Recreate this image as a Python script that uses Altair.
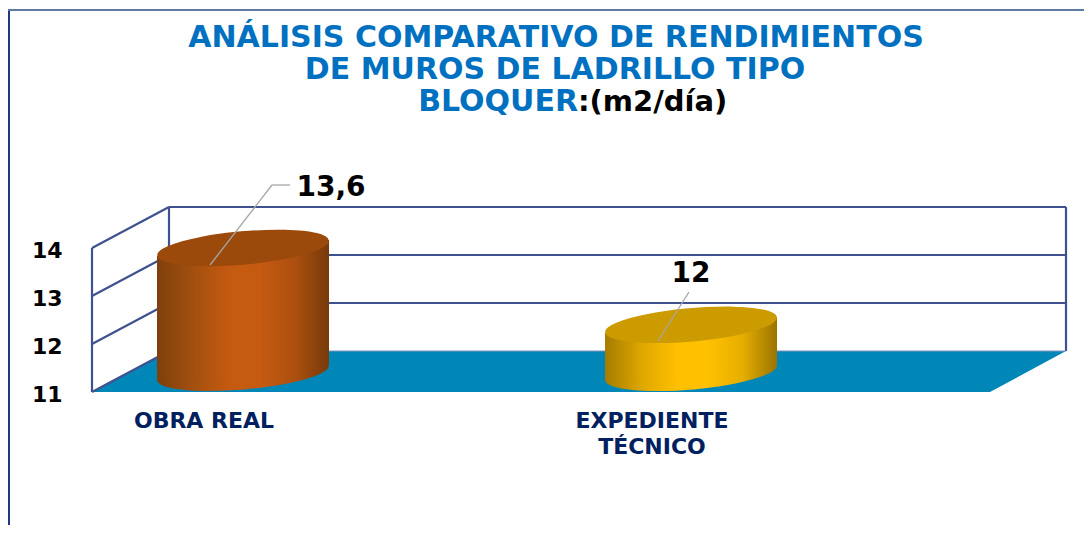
import altair as alt
import pandas as pd

categories = ["OBRA REAL", "EXPEDIENTE\nTÉCNICO"]
values = [13.6, 12]
value_labels = ["13,6", "12"]
y_ticks = [11, 12, 13, 14]
bar_x = [151, 599]
body_colors = [
    ["#7f3f0c", "#a4500f", "#c55a11", "#c55a11", "#ad5010", "#773a0a"],
    ["#a67c00", "#e0a800", "#ffc000", "#ffc000", "#e6ae00", "#9a7400"],
]
top_colors = ["#9c4a0b", "#cc9b00"]
floor_color = "#0087b8"
wall_color = "#3f5290"
title_blue = "#0070c0"
navy = "#002060"

# geometry of the pseudo-3D box, in scale units
DX, DY = 77, 41 / 48
BASE = 11.4
TILT = 8 / 48
HALF = 86
PLOT_W = 974
PLOT_H = 517
Y_DOM = [11 + (392 - 525) / 48, 19.0]
X = alt.Scale(domain=[0, PLOT_W], range=[0, PLOT_W], nice=False, zero=False)
Y = alt.Scale(domain=Y_DOM, nice=False, zero=False)
ELLIPSE = "M-0.996,0.087A1,0.19,-5,1,1,0.996,-0.087A1,0.19,-5,1,1,-0.996,0.087Z"
front_w = 898
AXIS = alt.Axis(values=y_ticks, title=None, domain=False, ticks=False, grid=False,
                labelPadding=30, labelFontSize=22, labelFont="DejaVu Sans", labelOffset=2,
                labelFontWeight="bold", labelColor="black", format="d")


def py(p):
    return 11 + (392 - p) / 48


def px(p):
    return p - 92


def x_enc(f="x"):
    return alt.X(f"{f}:Q", scale=X, axis=None)


def y_enc(f="y"):
    return alt.Y(f"{f}:Q", scale=Y, axis=AXIS)


def rules(rows, color, width):
    df = pd.DataFrame(rows, columns=["x", "y", "x2", "y2"])
    return alt.Chart(df).mark_rule(color=color, strokeWidth=width).encode(
        x=x_enc(), y=y_enc(), x2="x2:Q", y2="y2:Q"
    )


# floor
floor = alt.Chart(pd.DataFrame({"x": [0, DX], "x2": [front_w, PLOT_W], "y": [11, 11 + DY]})).mark_area(
    orient="horizontal", color=floor_color, opacity=1
).encode(x=x_enc(), x2="x2:Q", y=y_enc())

walls = []
for t in y_ticks:
    walls.append([0, t, DX, t + DY])
    if t > 11:
        walls.append([DX, t + DY, PLOT_W, t + DY])
walls += [[0, 11, 0, 14], [DX, 11 + DY, DX, 14 + DY], [PLOT_W, 11 + DY, PLOT_W, 14 + DY]]
wall_layer = rules(walls, wall_color, 2.2)
floor_edge = rules([[DX, 11 + DY, PLOT_W, 11 + DY]], "#8090b8", 1)

frame_left = rules([[px(9), py(10), px(9), py(525)]], "#1f3a80", 2)
frame_top = rules([[px(8), py(10), px(1084), py(10)]], "#5f7a9f", 2)


def gradient(stops):
    offs = [0, 0.22, 0.42, 0.6, 0.8, 1]
    return alt.Gradient(gradient="linear", x1=0, x2=1, y1=0, y2=0,
                        stops=[alt.GradientStop(offset=o, color=c) for o, c in zip(offs, stops)])


cyl_layers = []
for cx, val, stops, top in zip(bar_x, values, body_colors, top_colors):
    grad = gradient(stops)
    tv = val + 0.4
    body = pd.DataFrame({"x": [cx - HALF, cx + HALF],
                         "y": [tv - TILT, tv + TILT],
                         "y2": [BASE - TILT, BASE + TILT]})
    cyl_layers.append(alt.Chart(pd.DataFrame({"x": [cx], "y": [BASE]})).mark_point(
        shape=ELLIPSE, size=(2 * HALF) ** 2, filled=True, fill=grad, opacity=1, strokeWidth=0
    ).encode(x=x_enc(), y=y_enc()))
    cyl_layers.append(alt.Chart(body).mark_area(color=grad, opacity=1, interpolate="linear").encode(
        x=x_enc(), y=y_enc(), y2="y2:Q"))
    cyl_layers.append(alt.Chart(pd.DataFrame({"x": [cx], "y": [tv]})).mark_point(
        shape=ELLIPSE, size=(2 * HALF) ** 2, filled=True, fill=top, opacity=1, strokeWidth=0
    ).encode(x=x_enc(), y=y_enc()))

# leader lines
leaders = [
    [px(210), py(265), px(272), py(185)],
    [px(272), py(185), px(290), py(185)],
    [px(658), py(341), px(689), py(292)],
]
leader_layer = rules(leaders, "#a6a6a6", 1.3)

value_text = alt.Chart(pd.DataFrame({
    "x": [px(331), px(691)], "y": [py(196), py(282)], "t": value_labels
})).mark_text(font="DejaVu Sans", fontWeight="bold", fontSize=28, color="black", align="center",
              baseline="alphabetic").encode(
    x=x_enc(), y=y_enc(), text="t:N")

cat_text = alt.Chart(pd.DataFrame({
    "x": [px(204), px(652)], "y": [py(428)] * 2, "t": categories
})).mark_text(font="DejaVu Sans", fontWeight="bold", fontSize=22, color=navy, align="center",
              baseline="alphabetic", lineBreak="\n", lineHeight=26).encode(
    x=x_enc(), y=y_enc(), text="t:N")


def title_text(txt, xp, yp, color, align, size):
    return alt.Chart(pd.DataFrame({"x": [px(xp)], "y": [py(yp)], "t": [txt]})).mark_text(
        font="DejaVu Sans", fontWeight="bold", fontSize=size, color=color, align=align,
        baseline="alphabetic"
    ).encode(x=x_enc(), y=y_enc(), text="t:N")


titles = [
    title_text("ANÁLISIS COMPARATIVO DE RENDIMIENTOS", 556, 47, title_blue, "center", 30),
    title_text("DE MUROS DE LADRILLO TIPO", 555, 79, title_blue, "center", 30),
    title_text("BLOQUER", 578, 111, title_blue, "right", 30),
    title_text(":(m2/día)", 578, 111, "black", "left", 29),
]

chart = alt.layer(
    frame_left, frame_top, floor, wall_layer, floor_edge,
    *cyl_layers, leader_layer, value_text, cat_text, *titles
).properties(
    width=PLOT_W, height=PLOT_H,
    padding={"left": 84, "top": 0, "right": 18, "bottom": 0},
    autosize=alt.AutoSizeParams(type="none"),
    background="white",
).configure_view(stroke=None)

chart.save("out.html", embed_options={"renderer": "svg", "actions": False})
